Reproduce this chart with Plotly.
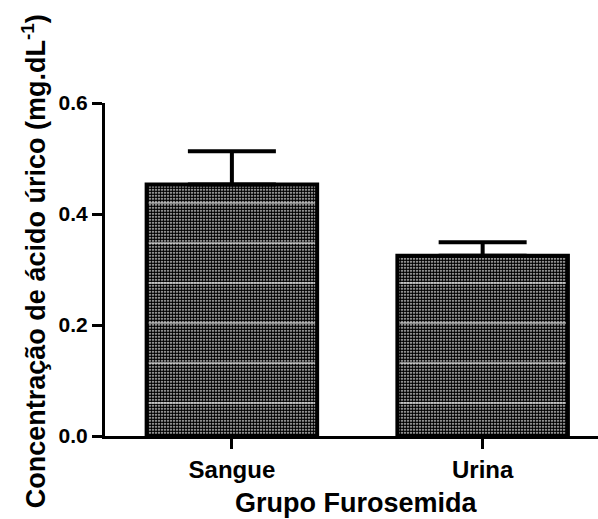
import plotly.graph_objects as go

categories = ["Sangue", "Urina"]
means = [0.453, 0.325]
errors_up = [0.060, 0.024]
errors_down = [0.0, 0.0]
y_ticks = [0.0, 0.2, 0.4, 0.6]
y_tick_labels = ["0.0", "0.2", "0.4", "0.6"]

FONT = "Liberation Sans, Arial, sans-serif"
BAR_W = 0.68

fig = go.Figure()

# dotted fill
fig.add_trace(go.Bar(
    x=categories, y=means, width=BAR_W,
    marker=dict(color="#ffffff", line=dict(width=0),
                pattern=dict(shape=".", fgcolor="#000000", bgcolor="#ffffff",
                             size=3, solidity=0.78, fillmode="replace")),
    hoverinfo="skip", showlegend=False,
))
# faint white horizontal streaks
fig.add_trace(go.Bar(
    x=categories, y=means, width=BAR_W,
    marker=dict(color="rgba(0,0,0,0)", line=dict(width=0),
                pattern=dict(shape="-", fgcolor="#ffffff", bgcolor="rgba(0,0,0,0)",
                             size=40, solidity=0.05, fillmode="overlay")),
    hoverinfo="skip", showlegend=False,
))
# outline + error bars
fig.add_trace(go.Bar(
    x=categories, y=means, width=BAR_W,
    marker=dict(color="rgba(0,0,0,0)", line=dict(width=4, color="#000000")),
    error_y=dict(type="data", symmetric=False, array=errors_up, arrayminus=errors_down,
                 color="#000000", thickness=4, width=44),
    hoverinfo="skip", showlegend=False,
))

fig.update_layout(
    width=598, height=519,
    margin=dict(l=105, r=0, t=103, b=83),
    paper_bgcolor="#ffffff", plot_bgcolor="#ffffff",
    barmode="overlay",
    font=dict(family=FONT, color="#000000", weight="bold"),
    xaxis=dict(
        range=[-0.506, 1.46], showgrid=False, zeroline=False,
        showline=True, linecolor="#000000", linewidth=3,
        ticks="outside", ticklen=10, tickwidth=3, tickcolor="#000000",
        tickfont=dict(family=FONT, size=24, color="#000000", weight="bold"),
    ),
    yaxis=dict(
        range=[0, 0.6], showgrid=False, zeroline=False,
        showline=True, linecolor="#000000", linewidth=3,
        ticks="outside", ticklen=10, tickwidth=3, tickcolor="#000000",
        tickvals=y_ticks, ticktext=y_tick_labels,
        tickfont=dict(family=FONT, size=21, color="#000000", weight="bold"),
    ),
    annotations=[
        dict(text="Grupo Furosemida", xref="paper", yref="paper",
             x=0.51, y=-0.2, xanchor="center", yanchor="middle", showarrow=False,
             font=dict(family=FONT, size=27, color="#000000", weight="bold")),
        dict(text="Concentração de ácido úrico (mg.dL<sup>-1</sup>)", xref="paper", yref="paper",
             x=-0.144, y=0.525, xanchor="center", yanchor="middle", textangle=-90,
             showarrow=False,
             font=dict(family=FONT, size=27, color="#000000", weight="bold")),
    ],
)

fig.write_html("out.html", config={"displayModeBar": False},
               post_script="document.body.style.margin='0';")
